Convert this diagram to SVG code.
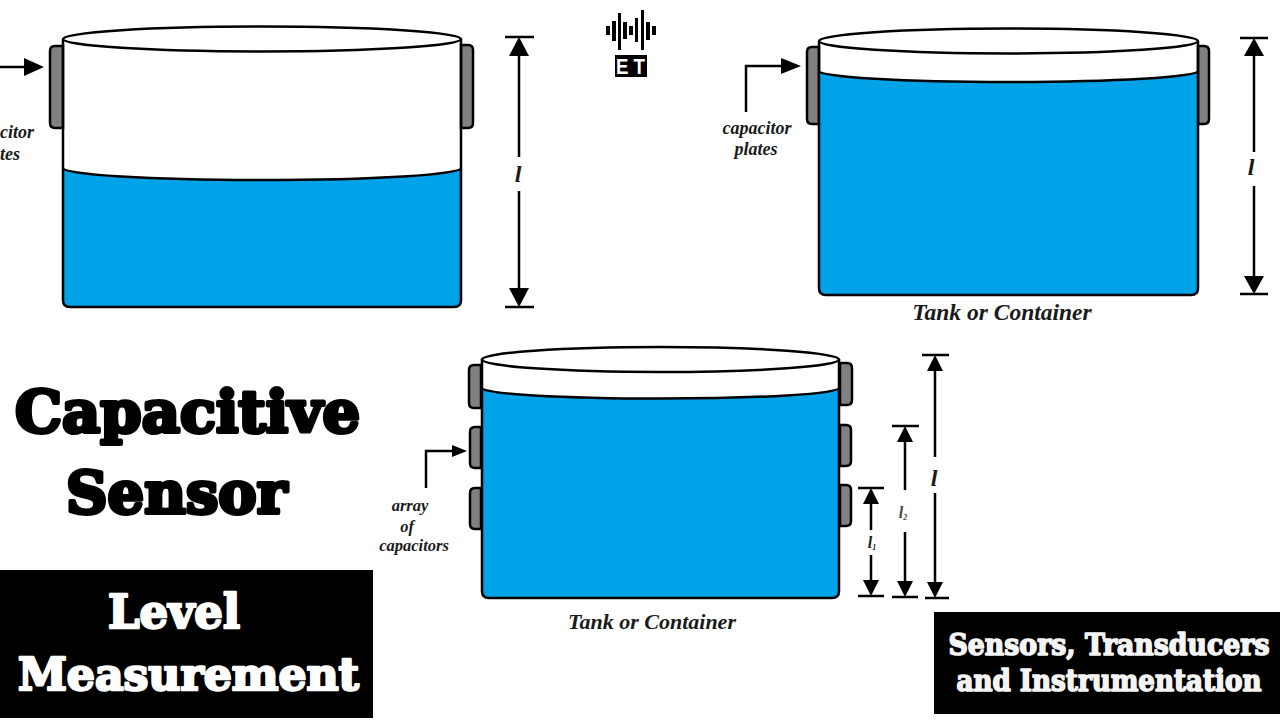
<svg xmlns="http://www.w3.org/2000/svg" width="1280" height="720" viewBox="0 0 1280 720">
<style>
.water{fill:#00a2e8}
.edge{fill:none;stroke:#000;stroke-width:2.5}
.rim{fill:#fff;stroke:#000;stroke-width:2.5}
.plate{fill:#808080;stroke:#000;stroke-width:2.5}
.line{fill:none;stroke:#000;stroke-width:2.5}
.head{fill:#000;stroke:none}
.it{font-family:"Liberation Serif",serif;font-style:italic;font-weight:bold;fill:#1a1a1a;text-anchor:middle}
.slab{font-family:"DejaVu Serif",serif;font-weight:bold;stroke-linejoin:round}
</style>
<rect width="1280" height="720" fill="#fff"/>

<g id="tank-1">
<path class="plate" d="M63 46H55Q50 46 50 51V123Q50 128 55 128H63Z"/>
<path class="plate" d="M461 45H468Q473 45 473 50V123Q473 128 468 128H461Z"/>
<path class="water" d="M63 168A199 12 0 0 0 461 168V300Q461 307 454 307H70Q63 307 63 300Z"/>
<path class="edge" d="M63 168A199 12 0 0 0 461 168"/>
<path class="edge" d="M63 39V300Q63 307 70 307H454Q461 307 461 300V39"/>
<ellipse class="rim" cx="262" cy="39" rx="199" ry="12.500"/>
<text class="it" x="34" y="138" font-size="18" style="text-anchor:end">citor</text>
<text class="it" x="20" y="160" font-size="18" style="text-anchor:end">tes</text>
</g>

<g id="tank-2">
<path class="plate" d="M819 47H812Q807 47 807 52V119Q807 124 812 124H819Z"/>
<path class="plate" d="M1198 46H1204Q1209 46 1209 51V119Q1209 124 1204 124H1198Z"/>
<path class="water" d="M819 71A189.500 11 0 0 0 1198 71V288Q1198 295 1191 295H826Q819 295 819 288Z"/>
<path class="edge" d="M819 71A189.500 11 0 0 0 1198 71"/>
<path class="edge" d="M819 41V288Q819 295 826 295H1191Q1198 295 1198 288V41"/>
<ellipse class="rim" cx="1008.500" cy="41" rx="189.500" ry="12.500"/>
<text class="it" x="757" y="134" font-size="18">capacitor</text>
<text class="it" x="756" y="155" font-size="18">plates</text>
<text class="it" x="1002" y="320" font-size="23.500">Tank or Container</text>
</g>

<g id="tank-3">
<path class="plate" d="M481 365H474Q469 365 469 370V403Q469 408 474 408H481Z"/>
<path class="plate" d="M481 427H475Q470 427 470 432V463Q470 468 475 468H481Z"/>
<path class="plate" d="M481 488H475Q470 488 470 493V524Q470 529 475 529H481Z"/>
<path class="plate" d="M840 363H847Q852 363 852 368V400Q852 405 847 405H840Z"/>
<path class="plate" d="M840 425H846Q851 425 851 430V461Q851 466 846 466H840Z"/>
<path class="plate" d="M840 485H846Q851 485 851 490V521Q851 526 846 526H840Z"/>
<path class="water" d="M482 388A178.500 10.500 0 0 0 839 388V591Q839 598 832 598H489Q482 598 482 591Z"/>
<path class="edge" d="M482 388A178.500 10.500 0 0 0 839 388"/>
<path class="edge" d="M482 359V591Q482 598 489 598H832Q839 598 839 591V359"/>
<ellipse class="rim" cx="660.500" cy="359.500" rx="178.500" ry="12.500"/>
<text class="it" x="410" y="511" font-size="16.500">array</text>
<text class="it" x="407" y="532" font-size="16.500">of</text>
<text class="it" x="414" y="551" font-size="16.500">capacitors</text>
<text class="it" x="652" y="629" font-size="22">Tank or Container</text>
</g>

<g id="connectors">
<path class="line" d="M0 67H28"/><path class="head" d="M44 67L24 58V76Z"/>
<path class="line" d="M746 112V66H785"/><path class="head" d="M801 66L781 58V74Z"/>
<path class="line" d="M426 488V451H455"/><path class="head" d="M467 451L452 445V457Z"/>

<path class="line" d="M505 37H534M505 307H534M519 45V157M519 191V300"/>
<path class="head" d="M519 37L509 56H529ZM519 307L509 288H529Z"/>

<path class="line" d="M1240 38H1268M1240 294H1268M1254 45V152M1254 186V288"/>
<path class="head" d="M1254 38L1244 56H1264ZM1254 294L1244 276H1264Z"/>

<path class="line" d="M922 355H949M925 598H949M935 362V457M935 493V592"/>
<path class="head" d="M935 355L927 371H943ZM935 598L927 582H943Z"/>

<path class="line" d="M892 426H919M892 597H918M905 432V490M905 532V591"/>
<path class="head" d="M905 426L897 442H913ZM905 597L897 581H913Z"/>

<path class="line" d="M858 488H884M858 596H884M871 494V530M871 555V590"/>
<path class="head" d="M871 488L863 504H879ZM871 596L863 580H879Z"/>
</g>

<g id="dim-labels" class="it">
<text x="518" y="182" font-size="24">l</text>
<text x="1251" y="175" font-size="24">l</text>
<text x="934" y="486" font-size="24">l</text>
<text x="903" y="518" font-size="16" fill="#444">l<tspan font-size="8" dy="2">2</tspan></text>
<text x="872" y="548" font-size="16">l<tspan font-size="8" dy="2">1</tspan></text>
</g>

<g id="logo">
<g fill="#000">
<rect x="606" y="26" width="4" height="9"/>
<rect x="612" y="21" width="4" height="20"/>
<rect x="618" y="13" width="3" height="37"/>
<rect x="623" y="22" width="4" height="17"/>
<rect x="629" y="26" width="4" height="9"/>
<rect x="635" y="18" width="3" height="24"/>
<rect x="641" y="10" width="3" height="40"/>
<rect x="646" y="22" width="4" height="18"/>
<rect x="652" y="26" width="4" height="9"/>
<rect x="615" y="55" width="32" height="22"/>
</g>
<text x="616" y="74" font-family="Liberation Sans, sans-serif" font-weight="bold" font-size="22" fill="#fff" textLength="29" lengthAdjust="spacingAndGlyphs">E T</text>
</g>

<g id="title">
<text class="slab" x="15" y="432" font-size="58" textLength="345" lengthAdjust="spacingAndGlyphs" fill="#000" stroke="#000" stroke-width="4">Capacitive</text>
<text class="slab" x="66" y="513" font-size="58" textLength="221" lengthAdjust="spacingAndGlyphs" fill="#000" stroke="#000" stroke-width="4">Sensor</text>
</g>

<g id="level-box">
<rect x="0" y="570" width="373" height="148" fill="#000"/>
<text class="slab" x="108" y="627.500" font-size="47" textLength="132" lengthAdjust="spacingAndGlyphs" fill="#fff" stroke="#fff" stroke-width="2.500">Level</text>
<text class="slab" x="18" y="689.500" font-size="44" textLength="341" lengthAdjust="spacingAndGlyphs" fill="#fff" stroke="#fff" stroke-width="2.500">Measurement</text>
</g>

<g id="course-box">
<rect x="934" y="612" width="346" height="102" fill="#000"/>
<text class="slab" transform="translate(948.500 655) scale(1 1.260)" x="0" y="0" font-size="23" textLength="321" lengthAdjust="spacingAndGlyphs" fill="#f4f4f4" stroke="#f4f4f4" stroke-width="1.300">Sensors, Transducers</text>
<text class="slab" transform="translate(956.500 691) scale(1 1.260)" x="0" y="0" font-size="23" textLength="305" lengthAdjust="spacingAndGlyphs" fill="#f4f4f4" stroke="#f4f4f4" stroke-width="1.300">and Instrumentation</text>
</g>
</svg>
